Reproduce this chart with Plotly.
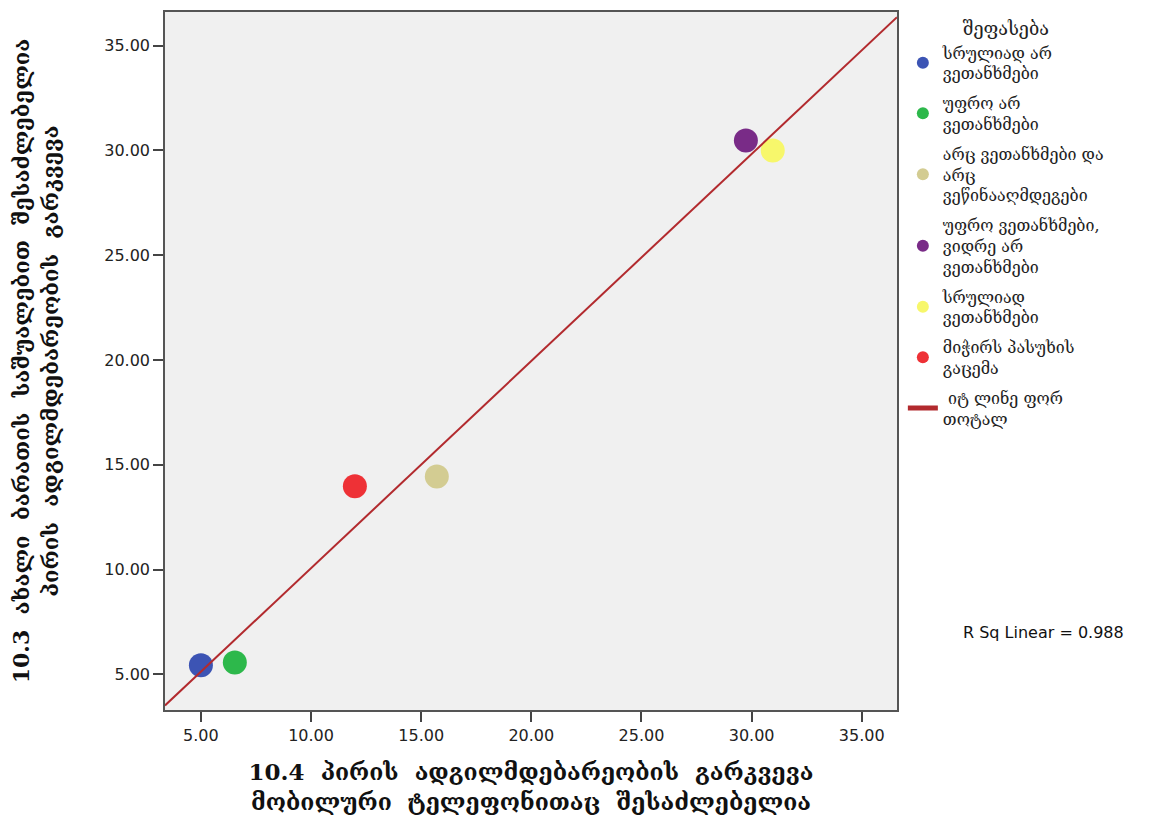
import numpy as np
import plotly.graph_objects as go

categories = [
    "სრულიად არ<br>ვეთანხმები",
    "უფრო არ<br>ვეთანხმები",
    "არც ვეთანხმები და<br>არც<br>ვეწინააღმდეგები",
    "უფრო ვეთანხმები,<br>ვიდრე არ<br>ვეთანხმები",
    "სრულიად<br>ვეთანხმები",
    "მიჭირს პასუხის<br>გაცემა",
]
x_values = [5.00, 6.54, 15.71, 29.74, 30.96, 11.99]
y_values = [5.43, 5.57, 14.44, 30.47, 29.99, 13.97]
colors = ["#3c54b4", "#2db84b", "#d3cc92", "#792b87", "#f7f76b", "#ee3136"]
tick_vals = [5, 10, 15, 20, 25, 30, 35]
tick_text = ["5.00", "10.00", "15.00", "20.00", "25.00", "30.00", "35.00"]
fit_label = " იტ ლინე ფორ<br>თოტალ"
r2_label = "R Sq Linear = 0.988"
x_title = "<b>10.4  პირის  ადგილმდებარეობის  გარკვევა<br>მობილური  ტელეფონითაც  შესაძლებელია</b>"
y_title = "<b>10.3  ახალი  ბარათის  საშუალებით  შესაძლებელია<br>პირის  ადგილმდებარეობის  გარკვევა</b>"
legend_title = "შეფასება"

x_range = [3.37, 36.6]
y_range = [3.3, 36.6]

geo_font = "DejaVu Serif, DejaVu Sans, serif"
num_font = "DejaVu Sans, Arial"

fig = go.Figure()
for i, (name, xv, yv, c) in enumerate(zip(categories, x_values, y_values, colors)):
    fig.add_trace(go.Scatter(
        x=[xv], y=[yv], mode="markers", name=name, legendgroup=f"g{i}",
        marker=dict(symbol="circle", size=24, color=c, line=dict(width=0)),
    ))

slope, intercept = np.polyfit(x_values, y_values, 1)
fx = np.array(x_range)
fig.add_trace(go.Scatter(
    x=fx, y=slope * fx + intercept, mode="lines", name=fit_label, legendgroup="fit",
    line=dict(color="#b22a2e", width=2),
))

fig.add_annotation(
    x=1.20, y=0.095, xref="paper", yref="paper", text=r2_label,
    showarrow=False, xanchor="center", font=dict(family=num_font, size=16, color="#111"),
)

axis_common = dict(
    showgrid=False, zeroline=False, showline=True, linecolor="#555", linewidth=1.5,
    mirror=True, ticks="outside", ticklen=10, tickwidth=2, tickcolor="#444",
    tickfont=dict(family=num_font, size=16, color="#222"),
    tickvals=tick_vals, ticktext=tick_text,
)
fig.update_xaxes(range=x_range, title=dict(text=x_title, font=dict(family=geo_font, size=23, color="#111"), standoff=20), **axis_common)
fig.update_yaxes(range=y_range, title=dict(text=y_title, font=dict(family=geo_font, size=22, color="#111"), standoff=40), **axis_common)

fig.update_layout(
    width=1163, height=818,
    margin=dict(l=157, r=274, t=4, b=116, autoexpand=False),
    plot_bgcolor="#f0f0f0", paper_bgcolor="white",
    legend=dict(
        x=1.008, y=1.0, xanchor="left", yanchor="top",
        title=dict(text=legend_title, side="top center", font=dict(family=geo_font, size=18, color="#222")),
        font=dict(family=geo_font, size=16, color="#222"),
        bgcolor="rgba(0,0,0,0)", tracegroupgap=6, itemsizing="constant",
    ),
)

fig.write_html("out.html")
